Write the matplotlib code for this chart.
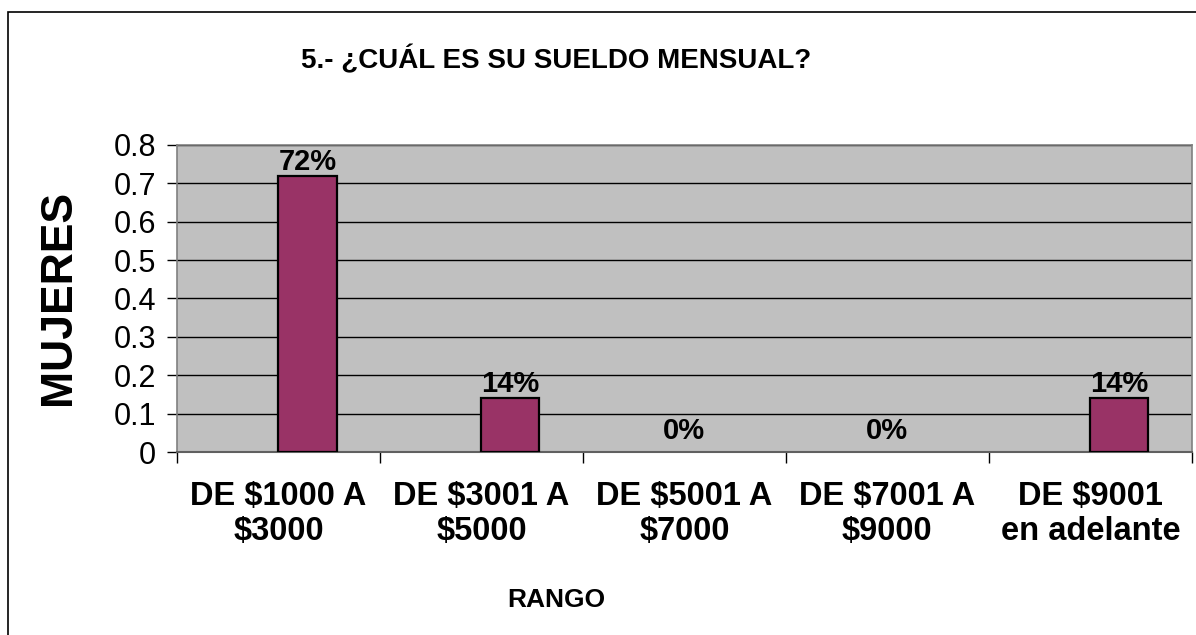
import numpy as np
import matplotlib
matplotlib.use("Agg")
import matplotlib.pyplot as plt
from matplotlib.patches import Rectangle

plt.rcParams['font.family'] = ['Liberation Sans', 'DejaVu Sans']

categories = ['DE $1000 A\n$3000', 'DE $3001 A\n$5000', 'DE $5001 A\n$7000',
              'DE $7001 A\n$9000', 'DE $9001\nen adelante']
values = [0.72, 0.14, 0.0, 0.0, 0.14]
labels = ['72%', '14%', '0%', '0%', '14%']
yticks = [0, 0.1, 0.2, 0.3, 0.4, 0.5, 0.6, 0.7, 0.8]
ytick_labels = ['0', '0.1', '0.2', '0.3', '0.4', '0.5', '0.6', '0.7', '0.8']

fig = plt.figure(figsize=(11.96, 6.35), dpi=100)
ax = fig.add_axes([0.148, 0.288, 0.8485, 0.484])

x = np.arange(len(values))
w = 0.286
ax.set_facecolor('#C0C0C0')
ax.set_axisbelow(True)
ax.yaxis.grid(True, color='black', linewidth=1)
lw = [1.6 if v > 0 else 0 for v in values]
ax.bar(x, values, width=w, align='edge', color='#993366', edgecolor='black', linewidth=lw, zorder=3)

for i, (v, t) in enumerate(zip(values, labels)):
    # zero values get their label at the category centre, like the original
    xp = i + w / 2 if v > 0 else i
    dy = 0 if v > 0 else 5
    ax.annotate(t, (xp, v), xytext=(0, dy), textcoords='offset points',
                ha='center', va='bottom', fontsize=21, fontweight='bold')

ax.set_xlim(-0.5, len(values) - 0.5)
ax.set_ylim(0, 0.8)
ax.set_yticks(yticks)
ax.set_yticklabels(ytick_labels, fontsize=22)
ax.tick_params(axis='y', length=7, width=1, color='black', pad=8)

ax.set_xticks(x)
ax.set_xticklabels(categories, fontsize=23.5, fontweight='bold', linespacing=1.15)
ax.tick_params(axis='x', which='major', length=0, pad=21)
ax.set_xticks(np.arange(len(values) + 1) - 0.5, minor=True)
ax.tick_params(axis='x', which='minor', length=8, width=1, color='black')

for s in ['left', 'top', 'right']:
    ax.spines[s].set_color('#808080')
    ax.spines[s].set_linewidth(1.2)
ax.spines['bottom'].set_color('#606060')
ax.spines['bottom'].set_linewidth(1.5)

fig.text(0.465, 0.905, '5.- ¿CUÁL ES SU SUELDO MENSUAL?', ha='center', va='center',
         fontsize=20, fontweight='bold')
fig.text(0.0485, 0.531, 'MUJERES', rotation=90, ha='center', va='center',
         fontsize=32, fontweight='bold')
fig.text(0.465, 0.055, 'RANGO', ha='center', va='center', fontsize=19, fontweight='bold')

fig.patches.append(Rectangle((0.0067, -0.05), 1.1, 1.031, transform=fig.transFigure,
                             fill=False, edgecolor='black', linewidth=1.2, clip_on=False))

fig.savefig('out.png', dpi=100, facecolor='white')
